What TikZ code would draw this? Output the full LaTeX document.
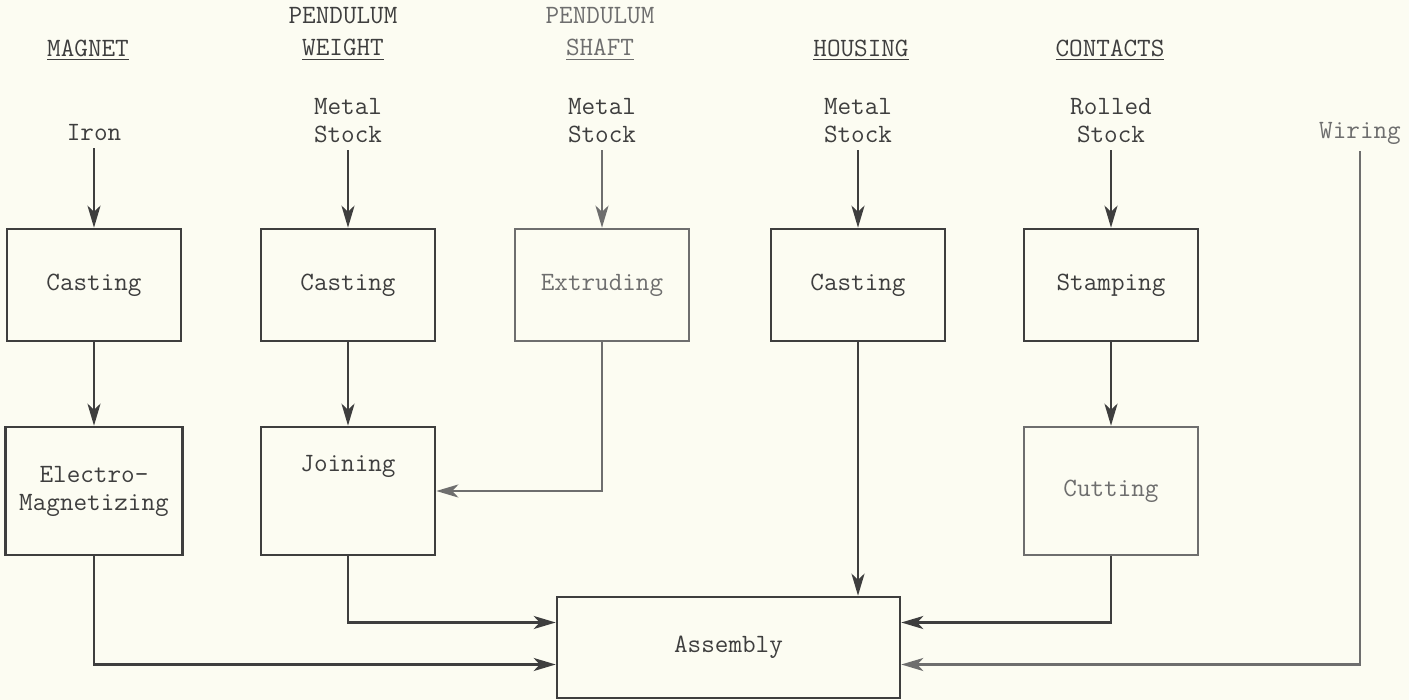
\documentclass[tikz,border=0pt]{standalone}
\usepackage{fontspec}
\usetikzlibrary{arrows.meta,calc}

\definecolor{paper}{RGB}{252,252,242}
\definecolor{inkdark}{RGB}{62,62,62}
\definecolor{inklight}{RGB}{110,110,110}

\begin{document}
\begin{tikzpicture}[
  x=0.5pt, y=-0.5pt,
  every node/.style={font=\ttfamily\fontsize{13.2}{14}\selectfont, text=inkdark, align=center},
  stage/.style={draw=inkdark, line width=1.3pt, minimum width=87pt, minimum height=56pt, inner sep=0pt},
  tall/.style={minimum height=64pt},
  flow/.style={draw=inkdark, line width=1.2pt, -{Stealth[length=11pt,width=6.5pt,inset=3pt]}},
  faint/.style={text=inklight},
  faintline/.style={draw=inklight},
]
  \fill[paper] (0,0) rectangle (1409,700);
  \useasboundingbox (0,0) rectangle (1409,700);

  % part headings
  \node (magnet)   at (88,50)   {\underline{MAGNET}};
  \node (weight)   at (343,34)  {PENDULUM\\[2pt]\underline{WEIGHT}};
  \node[faint] (shaft) at (600,34) {PENDULUM\\[2pt]\underline{SHAFT}};
  \node (housing)  at (861,50)  {\underline{HOUSING}};
  \node (contacts) at (1110,50) {\underline{CONTACTS}};

  % raw materials
  \node (iron)   at (94,133)   {Iron};
  \node (metal1) at (348,121)  {Metal\\Stock};
  \node (metal2) at (602,121)  {Metal\\Stock};
  \node (metal3) at (858,121)  {Metal\\Stock};
  \node (rolled) at (1111,121) {Rolled\\ Stock};
  \node[faint] (wiring) at (1360,133) {Wiring};

  % operations
  \node[stage] (cast1)   at (94,285)   {Casting};
  \node[stage] (cast2)   at (348,285)  {Casting};
  \node[stage,faint,faintline] (extrude) at (602,285) {Extruding};
  \node[stage] (cast3)   at (858,285)  {Casting};
  \node[stage] (stamp)   at (1111,285) {Stamping};

  \node[stage,tall,minimum width=88.5pt] (electro) at (94,491) {Electro-\\Magnetizing};
  \node[stage,tall] (join)  at (348,491)  {Joining\\[14pt]};
  \node[stage,tall,faint,faintline] (cut) at (1111,491) {Cutting};

  \node[stage,minimum width=171.5pt,minimum height=50.5pt] (asm) at (728.5,647.5) {Assembly};

  \draw[flow] (iron) -- (cast1);
  \draw[flow] (cast1) -- (electro);
  \draw[flow] (metal1) -- (cast2);
  \draw[flow] (cast2) -- (join);
  \draw[flow,faintline] (metal2) -- (extrude);
  \draw[flow,faintline] (extrude) |- (join);
  \draw[flow] (metal3) -- (cast3);
  \draw[flow] (cast3) -- (cast3 |- asm.north);
  \draw[flow] (rolled) -- (stamp);
  \draw[flow] (stamp) -- (cut);

  \draw[flow] (electro) |- ($(asm.west)+(0,17)$);
  \draw[flow] (join) |- ($(asm.west)+(0,-25)$);
  \draw[flow] (cut) |- ($(asm.east)+(0,-25)$);
  \draw[flow,faintline] (wiring) |- ($(asm.east)+(0,17)$);
\end{tikzpicture}
\end{document}
